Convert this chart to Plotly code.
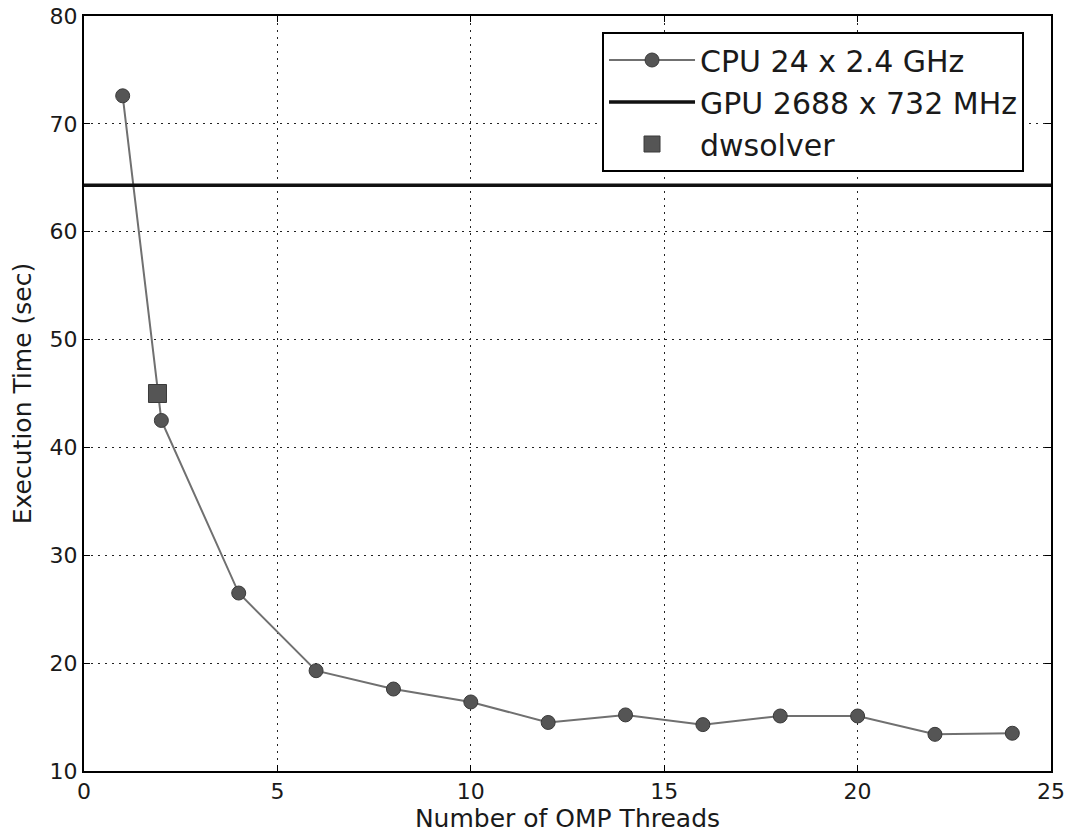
import plotly.graph_objects as go

threads = [1, 2, 4, 6, 8, 10, 12, 14, 16, 18, 20, 22, 24]
cpu_time = [72.6, 42.5, 26.5, 19.3, 17.6, 16.4, 14.5, 15.2, 14.3, 15.1, 15.1, 13.4, 13.5]
gpu_time = 64.3
dw_x = [1.9]
dw_y = [45.0]
x_ticks = [0, 5, 10, 15, 20, 25]
y_ticks = [10, 20, 30, 40, 50, 60, 70, 80]

FONT = "DejaVu Sans"
TXT = "#1a1a1a"

fig = go.Figure()
fig.add_trace(go.Scatter(
    x=threads, y=cpu_time, mode="lines+markers", name="CPU 24 x 2.4 GHz",
    line=dict(color="#707070", width=2),
    marker=dict(symbol="circle", size=14, color="#555555", line=dict(color="#3a3a3a", width=1)),
))
fig.add_trace(go.Scatter(
    x=[0, 25], y=[gpu_time, gpu_time], mode="lines", name="GPU 2688 x 732 MHz",
    line=dict(color="#111111", width=3.5),
))
fig.add_trace(go.Scatter(
    x=dw_x, y=dw_y, mode="markers", name="dwsolver",
    marker=dict(symbol="square", size=18, color="#555555", line=dict(color="#3a3a3a", width=1)),
))

axis_common = dict(
    showline=True, linecolor="black", linewidth=2, mirror="allticks",
    ticks="inside", ticklen=6, tickwidth=1, tickcolor="black",
    showgrid=True, gridcolor="#222222", griddash="2px,5px", gridwidth=1,
    zeroline=False, automargin=False, ticklabeloverflow="allow",
    tickfont=dict(family=FONT, size=22, color=TXT),
)

fig.update_xaxes(range=[0, 25], tickvals=x_ticks,
                 title=dict(text="Number of OMP Threads", font=dict(family=FONT, size=25, color=TXT), standoff=4),
                 **axis_common)
fig.update_yaxes(range=[10, 80], tickvals=y_ticks,
                 title=dict(text="Execution Time (sec)", font=dict(family=FONT, size=25, color=TXT), standoff=11),
                 **axis_common)

fig.update_layout(
    width=1073, height=836,
    margin=dict(l=84, r=22, t=16, b=65),
    plot_bgcolor="white", paper_bgcolor="white",
    font=dict(family=FONT, color=TXT),
    legend=dict(
        x=0.5357, y=0.9788, xanchor="left", yanchor="top",
        bgcolor="white", bordercolor="black", borderwidth=2,
        font=dict(family=FONT, size=30, color=TXT),
        itemwidth=86,
    ),
)

fig.write_html("out.html", config={"displayModeBar": False},
               post_script="document.body.style.margin='0';")
